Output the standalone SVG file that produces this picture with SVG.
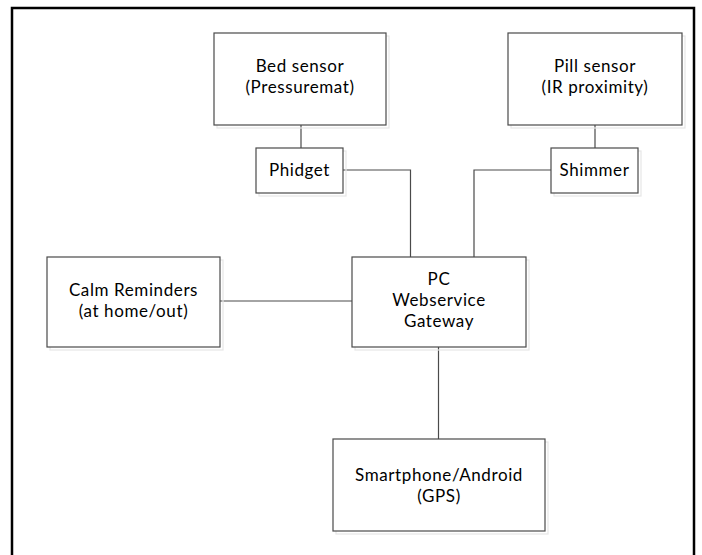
<svg xmlns="http://www.w3.org/2000/svg" width="702" height="555" viewBox="0 0 702 555">
<style>
.box{fill:#fff;stroke:#4a4a4a;stroke-width:1.2}
.sh{fill:none;stroke:#e6e6e6;stroke-width:1.2}
.t{font-family:Lato,"Open Sans","Liberation Sans",sans-serif;font-size:17px;letter-spacing:0.6px;fill:#000;text-anchor:middle}
.c{fill:none;stroke:#4a4a4a;stroke-width:1.2}
.frame{fill:none;stroke:#000;stroke-width:2.5}
</style>
<rect width="702" height="555" fill="#fff"/>
<path class="frame" d="M12 555 V8 H694 V555"/>
<g id="connectors">
<path class="c" d="M301 125 V148"/>
<path class="c" d="M595 125 V148"/>
<path class="c" d="M343 170 H410.5 V257"/>
<path class="c" d="M551 170 H474 V257"/>
<path class="c" d="M220 301 H352"/>
<path class="c" d="M438.5 347 V439"/>
</g>
<g id="bed">
<rect class="sh" x="217" y="36" width="172" height="92"/>
<rect class="box" x="214" y="33" width="172" height="92"/>
<text class="t" x="300" y="72">Bed sensor</text>
<text class="t" x="300" y="93">(Pressuremat)</text>
</g>
<g id="pill">
<rect class="sh" x="511" y="36" width="174" height="92"/>
<rect class="box" x="508" y="33" width="174" height="92"/>
<text class="t" x="595" y="72">Pill sensor</text>
<text class="t" x="595" y="93">(IR proximity)</text>
</g>
<g id="phidget">
<rect class="sh" x="259" y="151" width="87" height="45"/>
<rect class="box" x="256" y="148" width="87" height="45"/>
<text class="t" x="299.5" y="176">Phidget</text>
</g>
<g id="shimmer">
<rect class="sh" x="554" y="151" width="87" height="45"/>
<rect class="box" x="551" y="148" width="87" height="45"/>
<text class="t" x="594.5" y="176">Shimmer</text>
</g>
<g id="calm">
<rect class="sh" x="50" y="260" width="173" height="90"/>
<rect class="box" x="47" y="257" width="173" height="90"/>
<text class="t" x="133.5" y="296">Calm Reminders</text>
<text class="t" x="133.5" y="317">(at home/out)</text>
</g>
<g id="pc">
<rect class="sh" x="355" y="260" width="174" height="90"/>
<rect class="box" x="352" y="257" width="174" height="90"/>
<text class="t" x="439" y="285">PC</text>
<text class="t" x="439" y="306">Webservice</text>
<text class="t" x="439" y="327">Gateway</text>
</g>
<g id="smartphone">
<rect class="sh" x="336" y="442" width="212" height="92"/>
<rect class="box" x="333" y="439" width="212" height="92"/>
<text class="t" x="439" y="481">Smartphone/Android</text>
<text class="t" x="439" y="502">(GPS)</text>
</g>
</svg>
